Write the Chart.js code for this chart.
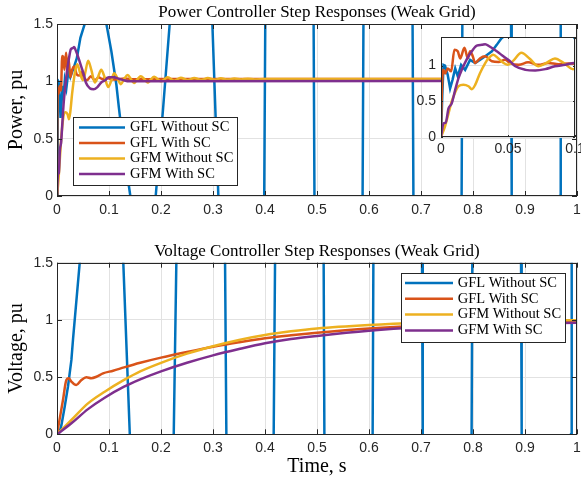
<!DOCTYPE html>
<html>
<head>
<meta charset="utf-8">
<script src="https://cdn.jsdelivr.net/npm/chart.js@4.4.0/dist/chart.umd.min.js"></script>
<style>
  html, body { margin: 0; padding: 0; background: #fff; }
  #wrap { position: relative; width: 581px; height: 479px; overflow: hidden; }
  canvas { position: absolute; }
</style>
</head>
<body>
<div id="wrap">
  <canvas id="powerChart" width="581" height="240" style="left:0;top:0"></canvas>
  <canvas id="voltChart" width="581" height="239" style="left:0;top:240px"></canvas>
  <canvas id="insetChart" width="171" height="130" style="left:410px;top:30px"></canvas>
</div>
<script>
// series names / colours (MATLAB default order)
var seriesNames = ['GFL Without SC', 'GFL With SC', 'GFM Without SC', 'GFM With SC'];
var seriesColors = ['#0072BD', '#D95319', '#EDB120', '#7E2F8E'];

// tick labels
var xTicks = [0, 0.1, 0.2, 0.3, 0.4, 0.5, 0.6, 0.7, 0.8, 0.9, 1];
var yTicks = [0, 0.5, 1, 1.5];
var insetXTicks = [0, 0.05, 0.1];
var insetYTicks = [0, 0.5, 1];

// --- power step responses ---
var pTimeGflNoSc = [0, 0.001, 0.0019, 0.003, 0.005, 0.0068, 0.0086, 0.0106, 0.0125, 0.015, 0.018, 0.0217, 0.0255, 0.029, 0.033,
  0.038, 0.0416, 0.045, 0.0533, 0.065, 0.075, 0.085, 0.095, 0.1046, 0.1142, 0.119, 0.13, 0.141, 0.155, 0.17,
  0.1898, 0.2038, 0.2167, 0.25, 0.2988, 0.3103, 0.35, 0.3985, 0.4005, 0.45, 0.4935, 0.4951, 0.54, 0.5877, 0.5893,
  0.64, 0.6838, 0.6854, 0.73, 0.7781, 0.7795, 0.83, 0.8732, 0.8744, 0.92, 0.9675, 0.9687, 1.0];
var pGflNoSc = [0, 0.6, 1.01, 1.0, 0.87, 0.68, 0.80, 0.96, 0.85, 1.01, 0.94, 1.08, 1.035, 1.08, 1.13,
  1.2, 1.29, 1.38, 1.5, 1.7, 1.8, 1.7, 1.5, 1.26, 0.97, 0.77, 0.35, 0, -0.5, -0.6,
  0, 0.75, 1.5, 3, 1.5, 0, -4, 0, 1.5, 6, 1.5, 0, -8, 0, 1.5,
  10, 1.5, 0, -12, 0, 1.5, 14, 1.5, 0, -16, 0, 1.5, 18];

var pTimeGflSc = [0, 0.00012, 0.0016, 0.0031, 0.005, 0.0076, 0.010, 0.0125, 0.0143, 0.0175, 0.020, 0.0217, 0.0237, 0.0255, 0.029,
  0.033, 0.038, 0.043, 0.0478, 0.0515, 0.058, 0.065, 0.0728, 0.080, 0.0877, 0.095, 0.11, 0.13, 0.15, 0.2, 1.0];
var pGflSc = [0, 0.19, 0.94, 0.89, 0.96, 0.92, 1.22, 1.2, 1.1, 1.25, 1.1, 1.2, 1.13, 1.035, 1.1,
  1.13, 1.06, 1.05, 1.08, 1.035, 1.01, 1.045, 1.01, 1.035, 1.02, 1.03, 1.015, 1.025, 1.018, 1.02, 1.02];

var pTimeGfmNoSc = [0, 0.003, 0.0056, 0.008, 0.010, 0.013, 0.0167, 0.0205, 0.023, 0.0255, 0.029, 0.033, 0.0354, 0.039, 0.0428,
  0.0465, 0.050, 0.054, 0.060, 0.066, 0.0728, 0.079, 0.085, 0.092, 0.0985, 0.104, 0.110, 0.117, 0.123, 0.129,
  0.136, 0.142, 0.148, 0.155, 0.161, 0.168, 0.174, 0.187, 0.200, 0.213, 0.225, 0.238, 0.251, 0.264, 0.277,
  0.290, 0.303, 0.315, 0.328, 0.341, 0.354, 0.367, 0.380, 0.400, 1.0];
var pGfmNoSc = [0, 0.15, 0.33, 0.50, 0.6, 0.71, 0.73, 0.71, 0.67, 0.73, 0.89, 1.035, 1.1, 1.15, 1.1,
  1.04, 1.01, 1.07, 1.18, 1.1, 0.99, 1.04, 1.1, 1.03, 0.95, 1.0, 1.07, 1.02, 0.975, 1.02,
  1.055, 1.02, 0.985, 1.02, 1.045, 1.02, 0.99, 1.04, 1.0, 1.035, 1.005, 1.032, 1.01, 1.03, 1.012,
  1.028, 1.013, 1.026, 1.015, 1.024, 1.016, 1.023, 1.017, 1.02, 1.02];

var pTimeGfmSc = [0, 0.0019, 0.0035, 0.0056, 0.008, 0.0106, 0.013, 0.0155, 0.019, 0.023, 0.0267, 0.0305, 0.033, 0.036,
  0.0416, 0.0465, 0.0515, 0.0555, 0.063, 0.0703, 0.0778, 0.085, 0.0927, 0.0994, 0.108, 0.124, 0.14, 1.0];
var pGfmSc = [0, 0.19, 0.2, 0.40, 0.47, 0.66, 0.82, 0.94, 1.08, 1.2, 1.28, 1.29, 1.3, 1.27,
  1.2, 1.13, 1.06, 0.99, 0.94, 0.93, 0.95, 0.99, 1.01, 1.035, 1.035, 1.015, 1.0, 1.005];

// --- voltage step responses ---
var vTimeGflNoSc = [0, 0.005, 0.0085, 0.0148, 0.0212, 0.0277, 0.0308, 0.0437, 0.06, 0.09, 0.1275, 0.14, 0.18, 0.2245, 0.2295,
  0.27, 0.3232, 0.3257, 0.37, 0.4167, 0.4193, 0.46, 0.5128, 0.5142, 0.56, 0.607, 0.6084, 0.65, 0.702, 0.7034,
  0.75, 0.7973, 0.7987, 0.85, 0.8924, 0.8936, 0.94, 0.9886, 0.9898, 1.0];
var vGflNoSc = [0, 0.02, 0.08, 0.24, 0.42, 0.65, 0.83, 1.5, 2.3, 2.6, 1.5, 0, -2, 0, 1.5,
  4, 1.5, 0, -6, 0, 1.5, 8, 1.5, 0, -10, 0, 1.5, 12, 1.5, 0,
  -14, 0, 1.5, 16, 1.5, 0, -18, 0, 1.5, 5];

var vTimeGflSc = [0, 0.0115, 0.018, 0.0225, 0.0277, 0.037, 0.047, 0.0565, 0.066, 0.0758, 0.0885, 0.108, 0.129,
  0.16, 0.2, 0.25, 0.3, 0.35, 0.4, 0.45, 0.5, 0.6, 0.7, 0.8, 0.9, 1.0];
var vGflSc = [0, 0.30, 0.475, 0.49, 0.46, 0.43, 0.475, 0.498, 0.49, 0.503, 0.533, 0.556, 0.585,
  0.625, 0.67, 0.72, 0.766, 0.805, 0.84, 0.866, 0.888, 0.925, 0.952, 0.97, 0.982, 0.99];

var vTimeGfm = [0, 0.0277, 0.0596, 0.0917, 0.129, 0.16, 0.2, 0.25, 0.3, 0.35, 0.4, 0.45, 0.5, 0.6, 0.7, 0.8, 0.9, 1.0];
var vGfmNoSc = [0, 0.125, 0.27, 0.372, 0.475, 0.55, 0.625, 0.705, 0.77, 0.825, 0.868, 0.9, 0.925, 0.955, 0.975, 0.987, 0.994, 0.998];
var vGfmSc = [0, 0.096, 0.22, 0.32, 0.416, 0.48, 0.55, 0.625, 0.69, 0.745, 0.795, 0.833, 0.86, 0.905, 0.935, 0.953, 0.965, 0.975];

// ---------------------------------------------------------------
Chart.defaults.font.family = "'Liberation Sans', Arial, sans-serif";
Chart.defaults.color = '#262626';
var SERIF = "'Liberation Serif', 'Times New Roman', serif";
var GRID = '#e2e2e2';

function pts(t, y) {
  return t.map(function(x, i) { return {x: x, y: y[i]}; });
}

function makeSets(series) {
  return series.map(function(d, i) {
    return {
      label: seriesNames[i],
      data: d,
      borderColor: seriesColors[i],
      backgroundColor: seriesColors[i],
      borderWidth: 2.5,
      pointRadius: 0,
      fill: false,
      clip: 0,
      order: 4 - i,
      tension: 0,
      capBezierPoints: false,
      cubicInterpolationMode: i === 0 ? 'default' : 'monotone'
    };
  });
}

function axis(min, max, vals, size, horiz, pad, title) {
  return {
    type: 'linear', min: min, max: max,
    afterBuildTicks: function(s) { s.ticks = vals.map(function(v) { return {value: v}; }); },
    afterFit: function(s) {
      if (horiz) s.height = size; else s.width = size;
      s.paddingLeft = s.paddingRight = s.paddingTop = s.paddingBottom = 0;
    },
    grid: {color: GRID, drawTicks: false, lineWidth: 1},
    border: {display: false},
    ticks: {autoSkip: false, maxRotation: 0, padding: pad, font: {size: 14}, color: '#262626',
      callback: function(v) { return String(v); }},
    title: title || {display: false}
  };
}

// white plot area, box and inward ticks like MATLAB
function frame(tickLen) {
  return {
    id: 'frame',
    beforeDraw: function(chart) {
      var a = chart.chartArea, c = chart.ctx;
      c.save();
      c.fillStyle = '#fff';
      c.fillRect(a.left, a.top, a.right - a.left, a.bottom - a.top);
      c.restore();
    },
    afterDatasetsDraw: function(chart) {
      var a = chart.chartArea, c = chart.ctx;
      var xs = chart.scales.x, ys = chart.scales.y;
      c.save();
      c.strokeStyle = '#262626';
      c.lineWidth = 1;
      c.beginPath();
      xs.ticks.forEach(function(t) {
        var p = Math.round(xs.getPixelForValue(t.value)) + 0.5;
        c.moveTo(p, a.bottom); c.lineTo(p, a.bottom - tickLen);
        c.moveTo(p, a.top); c.lineTo(p, a.top + tickLen);
      });
      ys.ticks.forEach(function(t) {
        var p = Math.round(ys.getPixelForValue(t.value)) + 0.5;
        c.moveTo(a.left, p); c.lineTo(a.left + tickLen, p);
        c.moveTo(a.right, p); c.lineTo(a.right - tickLen, p);
      });
      c.stroke();
      c.strokeRect(Math.round(a.left) + 0.5, Math.round(a.top) + 0.5,
        Math.round(a.right - a.left) - 1, Math.round(a.bottom - a.top) - 1);
      c.restore();
    }
  };
}

function legendBox(cfg) {
  return {
    id: 'legendBox',
    afterDraw: function(chart) {
      var c = chart.ctx;
      c.save();
      c.fillStyle = '#fff';
      c.fillRect(cfg.x, cfg.y, cfg.w, cfg.h);
      c.strokeStyle = '#262626';
      c.lineWidth = 1;
      c.strokeRect(cfg.x + 0.5, cfg.y + 0.5, cfg.w, cfg.h);
      c.font = '14.5px ' + SERIF;
      c.textBaseline = 'middle';
      chart.data.datasets.forEach(function(d, i) {
        var y = cfg.rows[i];
        c.strokeStyle = d.borderColor;
        c.lineWidth = d.borderWidth;
        c.beginPath();
        c.moveTo(cfg.x1, y); c.lineTo(cfg.x2, y);
        c.stroke();
        c.fillStyle = '#000';
        c.fillText(d.label, cfg.tx, y);
      });
      c.restore();
    }
  };
}

var powerSeries = [pts(pTimeGflNoSc, pGflNoSc), pts(pTimeGflSc, pGflSc), pts(pTimeGfmNoSc, pGfmNoSc), pts(pTimeGfmSc, pGfmSc)];
var voltSeries = [pts(vTimeGflNoSc, vGflNoSc), pts(vTimeGflSc, vGflSc), pts(vTimeGfm, vGfmNoSc), pts(vTimeGfm, vGfmSc)];

new Chart(document.getElementById('powerChart'), {
  type: 'line',
  data: {datasets: makeSets(powerSeries)},
  options: {
    responsive: false, animation: false, devicePixelRatio: 1,
    layout: {padding: {left: 0, right: 4, top: 0, bottom: 0}},
    plugins: {
      legend: {display: false}, tooltip: {enabled: false},
      title: {display: true, fullSize: false, text: 'Power Controller Step Responses (Weak Grid)',
        color: '#000', font: {family: SERIF, size: 17, weight: 'normal'}, padding: {top: 2.5, bottom: 1.1}}
    },
    scales: {
      x: axis(0, 1, xTicks, 44, true, 5.6),
      y: axis(0, 1.5, yTicks, 57, false, 4, {display: true, text: 'Power, pu', color: '#000',
        font: {family: SERIF, size: 20}, padding: {top: 4.5, bottom: 0}})
    }
  },
  plugins: [frame(5), legendBox({x: 73, y: 117, w: 164, h: 68, x1: 79, x2: 125, tx: 130, rows: [127.5, 143, 158.5, 174]})]
});

new Chart(document.getElementById('voltChart'), {
  type: 'line',
  data: {datasets: makeSets(voltSeries)},
  options: {
    responsive: false, animation: false, devicePixelRatio: 1,
    layout: {padding: {left: 0, right: 4, top: 0, bottom: 0}},
    plugins: {
      legend: {display: false}, tooltip: {enabled: false},
      title: {display: true, fullSize: false, text: 'Voltage Controller Step Responses (Weak Grid)',
        color: '#000', font: {family: SERIF, size: 17, weight: 'normal'}, padding: {top: 1.5, bottom: 0.8}}
    },
    scales: {
      x: axis(0, 1, xTicks, 44.7, true, 5.6, {display: true, text: 'Time, s', color: '#000',
        font: {family: SERIF, size: 20}, padding: {top: 0, bottom: 0.5}}),
      y: axis(0, 1.5, yTicks, 57, false, 4, {display: true, text: 'Voltage, pu', color: '#000',
        font: {family: SERIF, size: 20}, padding: {top: 4.5, bottom: 0}})
    }
  },
  plugins: [frame(5), legendBox({x: 401, y: 33, w: 164, h: 69, x1: 405, x2: 453, tx: 457.7, rows: [43, 58.8, 74.6, 90.4]})]
});

// zoomed inset of the first 0.1 s of the power responses
new Chart(document.getElementById('insetChart'), {
  type: 'line',
  data: {datasets: makeSets(powerSeries)},
  options: {
    responsive: false, animation: false, devicePixelRatio: 1,
    layout: {padding: {left: 0, right: 6, top: 7, bottom: 0}},
    plugins: {legend: {display: false}, tooltip: {enabled: false}, title: {display: false}},
    scales: {
      x: axis(0, 0.1, insetXTicks, 23, true, 4),
      y: axis(0, 1.4, insetYTicks, 31, false, 5)
    }
  },
  plugins: [frame(2)]
});
</script>
</body>
</html>
